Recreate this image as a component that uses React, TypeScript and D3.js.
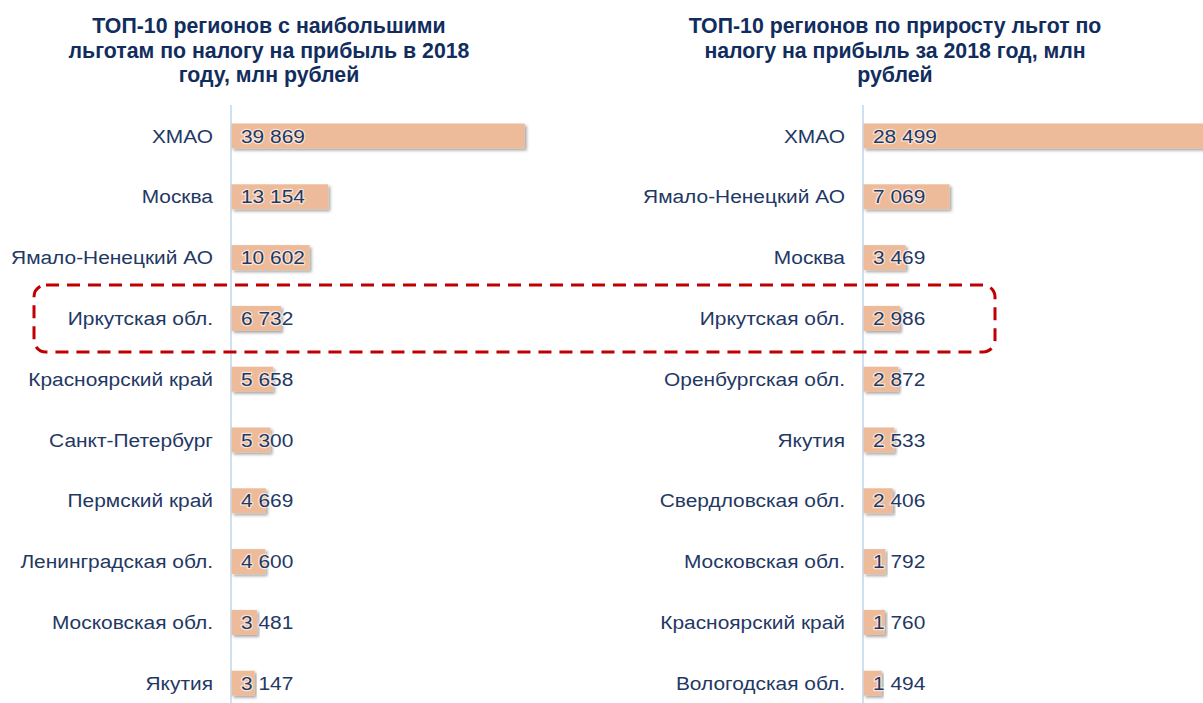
import React from "react";
import * as d3 from "d3";

const leftTitle = ["ТОП-10 регионов с наибольшими", "льготам по налогу на прибыль в 2018", "году, млн рублей"];
const rightTitle = ["ТОП-10 регионов по приросту льгот по", "налогу на прибыль за 2018 год, млн", "рублей"];

const leftCategories = ["ХМАО", "Москва", "Ямало-Ненецкий АО", "Иркутская обл.", "Красноярский край", "Санкт-Петербург", "Пермский край", "Ленинградская обл.", "Московская обл.", "Якутия"];
const leftValues = [39869, 13154, 10602, 6732, 5658, 5300, 4669, 4600, 3481, 3147];

const rightCategories = ["ХМАО", "Ямало-Ненецкий АО", "Москва", "Иркутская обл.", "Оренбургская обл.", "Якутия", "Свердловская обл.", "Московская обл.", "Красноярский край", "Вологодская обл."];
const rightValues = [28499, 7069, 3469, 2986, 2872, 2533, 2406, 1792, 1760, 1494];

const W = 1203;
const H = 703;
const FONT = "'Liberation Sans', Arial, sans-serif";
const BAR = "#EDBB99";
const TEXT = "#1F3864";
const TITLE = "#112D5E";
const AXIS = "#BDD7EE";
const SX = 1.1;

const fmt = (v: number) => d3.format(",")(v).replace(/,/g, " ");

type PanelProps = {
  categories: string[];
  values: number[];
  title: string[];
  axisX: number;
  pxPer10k: number;
  titleCx: number;
};

function Panel({ categories, values, title, axisX, pxPer10k, titleCx }: PanelProps) {
  const x = d3.scaleLinear().domain([0, 10000]).range([axisX, axisX + pxPer10k]);
  const y = d3
    .scaleBand<string>()
    .domain(categories)
    .range([105.6, 713.6])
    .paddingInner(0.589)
    .paddingOuter(0.2945);
  const bw = y.bandwidth();
  return (
    <g>
      {title.map((t, i) => (
        <text key={i} x={titleCx} y={33 + i * 24.5} textAnchor="middle" fontFamily={FONT} fontWeight="bold" fontSize={21.3} fill={TITLE}>
          {t}
        </text>
      ))}
      <line x1={axisX} x2={axisX} y1={105} y2={H} stroke={AXIS} strokeWidth={1.5} />
      {categories.map((c, i) => {
        const yy = y(c)!;
        const cy = yy + bw / 2;
        return (
          <g key={c}>
            <rect x={x(0) + 0.5} y={yy} width={Math.max(0, x(values[i]) - x(0))} height={bw} fill={BAR} filter="url(#shadow)" />
            <text
              transform={`translate(${axisX - 18},${cy}) scale(${SX},1)`}
              dy="0.35em"
              textAnchor="end"
              fontFamily={FONT}
              fontSize={19}
              fill={TEXT}
            >
              {c}
            </text>
            <text
              transform={`translate(${axisX + 10},${cy}) scale(${SX},1)`}
              dy="0.35em"
              fontFamily={FONT}
              fontSize={19}
              fill={TEXT}
              stroke="rgba(255,255,255,0.6)"
              strokeWidth={2.5}
              paintOrder="stroke"
              strokeLinejoin="round"
            >
              {fmt(values[i])}
            </text>
          </g>
        );
      })}
    </g>
  );
}

export default function App() {
  return (
    <svg width={W} height={H} style={{ position: "absolute", left: 0, top: 0, background: "#fff" }}>
      <defs>
        <filter id="shadow" x="-5%" y="-20%" width="115%" height="160%">
          <feDropShadow dx={2} dy={2} stdDeviation={1.5} floodColor="#000" floodOpacity={0.35} />
        </filter>
      </defs>
      <Panel categories={leftCategories} values={leftValues} title={leftTitle} axisX={231} pxPer10k={73.55} titleCx={269} />
      <Panel categories={rightCategories} values={rightValues} title={rightTitle} axisX={863} pxPer10k={121.7} titleCx={895} />
      <rect x={34} y={285} width={961} height={67} rx={12} ry={12} fill="none" stroke="#C00000" strokeWidth={3} strokeDasharray="13 8" />
    </svg>
  );
}
